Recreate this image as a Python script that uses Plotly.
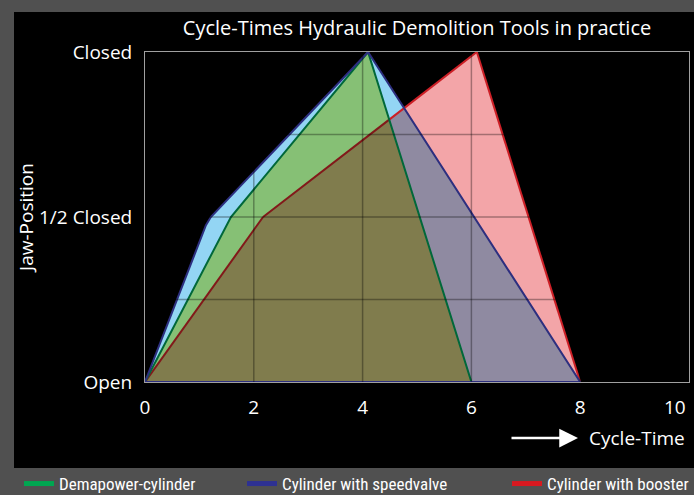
import plotly.graph_objects as go

# ---------------- data ----------------
series_names = ["Demapower-cylinder", "Cylinder with speedvalve", "Cylinder with booster"]
demapower_x = [0, 1.58, 4.1, 6.0]
demapower_y = [0, 1.0, 2.0, 0]
speedvalve_x = [0, 1.12, 1.21, 4.1, 8.0]
speedvalve_y = [0, 0.95, 1.0, 2.0, 0]
booster_x = [0, 2.17, 6.1, 8.0]
booster_y = [0, 1.0, 2.0, 0]

x_ticks = [0, 2, 4, 6, 8, 10]
x_tick_labels = ["0", "2", "4", "6", "8", "10"]
y_ticks = [0, 1, 2]
y_tick_labels = ["Open", "1/2 Closed", "Closed"]

# ---------------- styles ----------------
W, H = 694, 495
ML, MR, MT, MB = 145, 5, 52, 113
PW, PH = W - ML - MR, H - MT - MB

C_BLUE = "#93d5f4"
C_RED = "#f3a5a8"
C_BLUE_RED = "#8f8aa1"
C_GREEN_BLUE = "#86c075"
C_ALL = "#807c4d"

LINE_GREEN = "#00683a"
LINE_BLUE = "#2d2f7f"
LINE_RED = "#cc1f26"
LINE_RED_DARK = "#82191a"

LEG_GREEN = "#00a651"
LEG_BLUE = "#2e3192"
LEG_RED = "#d71920"

FONT = "Open Sans, Noto Sans, sans-serif"
NARROW = "Liberation Sans Narrow, Roboto Condensed, Noto Sans, sans-serif"
BG = "#505050"


def px_x(p):
    return (p - ML) / PW


def px_y(p):
    return (H - MB - p) / PH


# ---------------- polygon helpers ----------------
def area(P):
    n = len(P)
    return 0.5 * sum(P[i][0] * P[(i + 1) % n][1] - P[(i + 1) % n][0] * P[i][1] for i in range(n))


def cross_side(p, a, b):
    return (b[0] - a[0]) * (p[1] - a[1]) - (b[1] - a[1]) * (p[0] - a[0])


def inside_poly(p, P):
    sign = 1 if area(P) > 0 else -1
    return all(sign * cross_side(p, P[i], P[(i + 1) % len(P)]) > 1e-9 for i in range(len(P)))


def clip(subject, clipper):
    sign = 1 if area(clipper) > 0 else -1

    def inside(p, a, b):
        return sign * cross_side(p, a, b) >= -1e-9

    def inter(p, q, a, b):
        dx, dy = b[0] - a[0], b[1] - a[1]
        num = dx * (a[1] - p[1]) - dy * (a[0] - p[0])
        den = dx * (q[1] - p[1]) - dy * (q[0] - p[0])
        t = num / den if den else 0
        return (p[0] + t * (q[0] - p[0]), p[1] + t * (q[1] - p[1]))

    out = list(subject)
    for i in range(len(clipper)):
        a, b = clipper[i], clipper[(i + 1) % len(clipper)]
        inp, out = out, []
        if not inp:
            break
        s = inp[-1]
        for e in inp:
            if inside(e, a, b):
                if not inside(s, a, b):
                    out.append(inter(s, e, a, b))
                out.append(e)
            elif inside(s, a, b):
                out.append(inter(s, e, a, b))
            s = e
    return out


def split_outline(P, region):
    """Split closed outline P into pieces inside / outside convex region."""
    ins, outs = [], []
    n = len(P)
    for i in range(n):
        p, q = P[i], P[(i + 1) % n]
        ts = [0.0, 1.0]
        for j in range(len(region)):
            a, b = region[j], region[(j + 1) % len(region)]
            d1 = cross_side(p, a, b)
            d2 = cross_side(q, a, b)
            if (d1 > 0) != (d2 > 0) and d1 != d2:
                ts.append(d1 / (d1 - d2))
        ts = sorted(t for t in ts if 0 <= t <= 1)
        for t0, t1 in zip(ts[:-1], ts[1:]):
            if t1 - t0 < 1e-9:
                continue
            a_pt = (p[0] + t0 * (q[0] - p[0]), p[1] + t0 * (q[1] - p[1]))
            b_pt = (p[0] + t1 * (q[0] - p[0]), p[1] + t1 * (q[1] - p[1]))
            mid = ((a_pt[0] + b_pt[0]) / 2, (a_pt[1] + b_pt[1]) / 2)
            (ins if inside_poly(mid, region) else outs).append((a_pt, b_pt))
    return ins, outs


def seg_xy(segs):
    xs, ys = [], []
    for a, b in segs:
        xs += [a[0], b[0], None]
        ys += [a[1], b[1], None]
    return xs, ys


green = list(zip(demapower_x, demapower_y))
blue = list(zip(speedvalve_x, speedvalve_y))
red = list(zip(booster_x, booster_y))

blue_red = clip(blue, red)
green_blue = clip(green, blue)
green_all = clip(green_blue, red)

fig = go.Figure()


def add_fill(poly, color):
    if not poly:
        return
    xs = [p[0] for p in poly] + [poly[0][0]]
    ys = [p[1] for p in poly] + [poly[0][1]]
    fig.add_trace(go.Scatter(x=xs, y=ys, mode="lines", fill="toself", fillcolor=color,
                             line=dict(width=0, color=color), hoverinfo="skip", showlegend=False))


add_fill(blue, C_BLUE)
add_fill(red, C_RED)
add_fill(blue_red, C_BLUE_RED)
add_fill(green_blue, C_GREEN_BLUE)
add_fill(green_all, C_ALL)

# outlines
red_in, red_out = split_outline(red, green)
for segs, col in [(red_out, LINE_RED), (red_in, LINE_RED_DARK)]:
    xs, ys = seg_xy(segs)
    fig.add_trace(go.Scatter(x=xs, y=ys, mode="lines", line=dict(color=col, width=2),
                             hoverinfo="skip", showlegend=False))
for xs, ys, col in [(demapower_x, demapower_y, LINE_GREEN),
                    (speedvalve_x, speedvalve_y, LINE_BLUE)]:
    fig.add_trace(go.Scatter(x=xs + [xs[0]], y=ys + [ys[0]], mode="lines",
                             line=dict(color=col, width=2), hoverinfo="skip", showlegend=False))

# legend entries (three separate legends)
for name, col, leg in [(series_names[0], LEG_GREEN, "legend"),
                       (series_names[1], LEG_BLUE, "legend2"),
                       (series_names[2], LEG_RED, "legend3")]:
    fig.add_trace(go.Scatter(x=[None], y=[None], mode="lines", name=name,
                             line=dict(color=col, width=5), legend=leg))

# grid lines drawn above the fills (darkening like the original)
shapes = []
for xv in x_ticks[1:-1]:
    shapes.append(dict(type="line", xref="x", yref="y", x0=xv, x1=xv, y0=y_ticks[0], y1=y_ticks[-1],
                       line=dict(color="rgba(0,0,0,0.33)", width=1.5), layer="above"))
half = (y_ticks[1] - y_ticks[0]) / 2
k = 1
while y_ticks[0] + k * half < y_ticks[-1] - 1e-9:
    yv = y_ticks[0] + k * half
    shapes.append(dict(type="line", xref="x", yref="y", x0=x_ticks[0], x1=x_ticks[-1], y0=yv, y1=yv,
                       line=dict(color="rgba(0,0,0,0.33)", width=1.5), layer="above"))
    k += 1

# black panel behind the chart
shapes.append(dict(type="rect", xref="paper", yref="paper",
                   x0=px_x(14), x1=px_x(W + 5), y0=px_y(468), y1=px_y(12),
                   fillcolor="black", line=dict(width=0), layer="below"))

# last x tick label is drawn right-aligned (as in the original) via an annotation
ticktext_x = x_tick_labels[:-1] + [""]

leg_common = dict(orientation="h", bgcolor="rgba(0,0,0,0)", font=dict(color="white", size=17, family=NARROW),
                  xanchor="left", yanchor="middle", y=px_y(484))

fig.update_layout(
    width=W, height=H,
    margin=dict(l=ML, r=MR, t=MT, b=MB, autoexpand=False),
    paper_bgcolor=BG,
    plot_bgcolor="white",
    title=dict(text="Cycle-Times Hydraulic Demolition Tools in practice",
               font=dict(color="white", size=20, family=FONT),
               x=0.5, xref="paper", xanchor="center", y=1 - 28 / H, yanchor="middle"),
    xaxis=dict(range=[x_ticks[0], x_ticks[-1]], tickvals=x_ticks, ticktext=ticktext_x,
               showgrid=False, zeroline=False, showline=True, linecolor="#a0a0a0", linewidth=1, mirror=True,
               tickfont=dict(color="white", size=19, family=FONT), ticks="", ticklabelstandoff=8,
               fixedrange=True),
    yaxis=dict(range=[y_ticks[0], y_ticks[-1]], tickvals=y_ticks, ticktext=y_tick_labels,
               showgrid=False, zeroline=False, showline=True, linecolor="#a0a0a0", linewidth=1, mirror=True,
               tickfont=dict(color="white", size=19, family=FONT), ticks="", ticklabelstandoff=8,
               title=dict(text="Jaw-Position", font=dict(color="white", size=19, family=FONT), standoff=0),
               fixedrange=True),
    shapes=shapes,
    legend=dict(x=px_x(19), **leg_common),
    legend2=dict(x=px_x(242), **leg_common),
    legend3=dict(x=px_x(507), **leg_common),
    annotations=[
        dict(xref="x", yref="paper", x=x_ticks[-1], y=px_y(407), xanchor="right", yanchor="middle",
             xshift=-1, text=x_tick_labels[-1], showarrow=False,
             font=dict(color="white", size=19, family=FONT)),
        dict(xref="paper", yref="paper", x=px_x(578), y=px_y(438), ax=-68, ay=0,
             text="", showarrow=True, arrowhead=2, arrowsize=1.5, arrowwidth=2.5, arrowcolor="white"),
        dict(xref="paper", yref="paper", x=px_x(587), y=px_y(438), xanchor="left", yanchor="middle",
             text="Cycle-Time", showarrow=False, font=dict(color="white", size=19, family=FONT)),
    ],
)

fig.write_html("out.html", config={"displayModeBar": False},
               post_script="document.body.style.margin='0';document.body.style.background='%s';" % BG)
